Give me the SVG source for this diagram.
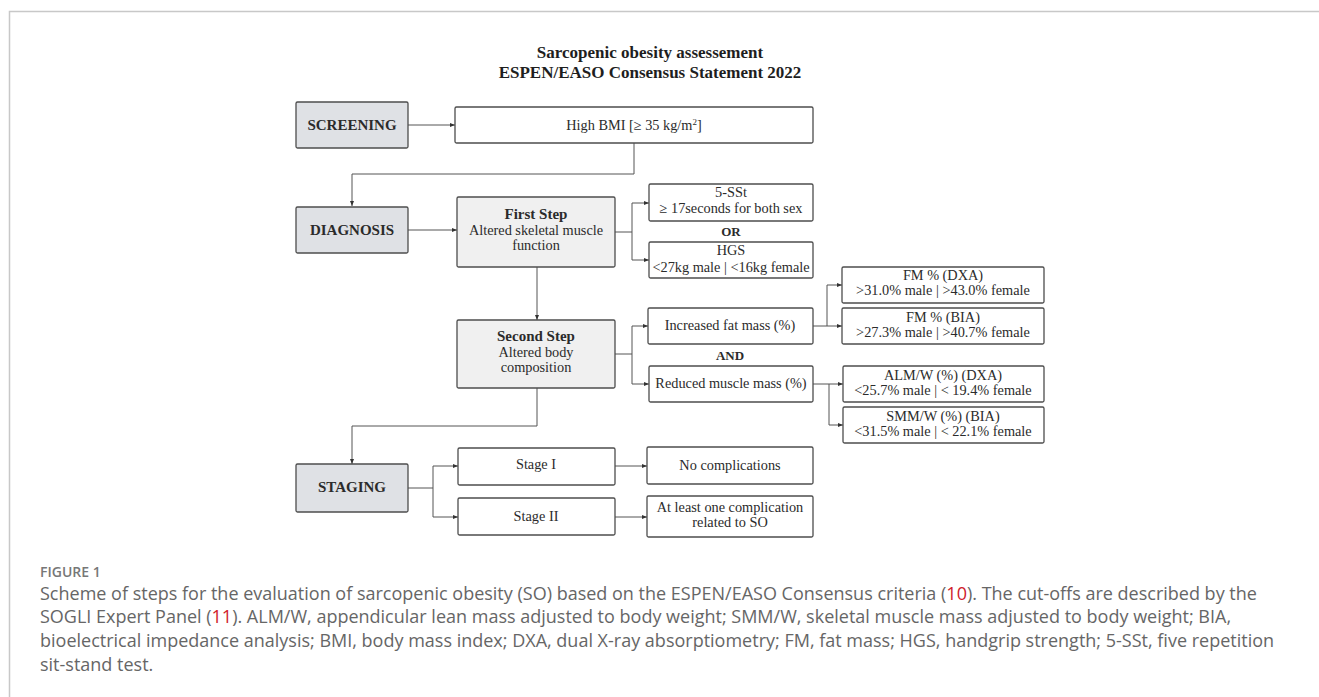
<svg xmlns="http://www.w3.org/2000/svg" width="1319" height="697" viewBox="0 0 1319 697">
<style>
.frame{stroke:#c8c8c8;stroke-width:1.5;fill:none}
.box{stroke:#4d4d4d;stroke-width:1.3;fill:#ffffff}
.head{fill:#dfe1e5}
.step{fill:#f0f0f0}
.t{font-family:"Liberation Serif",serif;font-size:14.3px;fill:#2b2b2b;text-anchor:middle}
.b{font-family:"Liberation Serif",serif;font-size:15px;font-weight:bold;fill:#2b2b2b;text-anchor:middle}
.title{font-family:"Liberation Serif",serif;font-size:17px;font-weight:bold;fill:#1e1e1e;text-anchor:middle}
.con{stroke:#555;stroke-width:1;fill:none;marker-end:url(#ah)}
.con2{stroke:#555;stroke-width:1;fill:none}
.cap{font-family:"Open Sans","Liberation Sans",sans-serif;font-size:18px;fill:#666}
.fig{font-family:"Open Sans","Liberation Sans",sans-serif;font-size:14px;font-weight:600;fill:#777}
.ref{fill:#d0202a}
</style>
<defs>
<marker id="ah" viewBox="0 0 6 6" refX="6" refY="3" markerWidth="5" markerHeight="5" orient="auto" markerUnits="userSpaceOnUse">
<path d="M0,0.6 L6,3 L0,5.4 z" fill="#333"/>
</marker>
</defs>
<rect width="1319" height="697" fill="#ffffff"/>
<path class="frame" d="M9.5,697 V11.5 H1319"/>
<g id="title">
<text class="title" x="650" y="58">Sarcopenic obesity assessement</text>
<text class="title" x="650" y="78">ESPEN/EASO Consensus Statement 2022</text>
</g>
<g id="connectors">
<path class="con" d="M408,125 H455"/>
<path class="con" d="M634,143 V174 H352 V206"/>
<path class="con" d="M408,230 H457"/>
<path class="con" d="M615,232 H632 V203 H649"/>
<path class="con" d="M632,232 V260 H649"/>
<path class="con" d="M537,267 V320"/>
<path class="con" d="M615,354 H632 V326 H648"/>
<path class="con" d="M632,354 V384 H649"/>
<path class="con" d="M813,326 H827 V285 H842"/>
<path class="con" d="M827,326 H842"/>
<path class="con" d="M813,384 H843"/>
<path class="con" d="M829,384 V425 H843"/>
<path class="con" d="M537,388 V426 H352 V464"/>
<path class="con" d="M408,488 H433 V466 H458"/>
<path class="con" d="M433,488 V517 H458"/>
<path class="con" d="M615,466 H647"/>
<path class="con" d="M615,517 H647"/>
</g>
<g id="screening">
<rect class="box head" x="296" y="102" width="112" height="46" rx="1.5"/>
<text class="b" x="352" y="130">SCREENING</text>
</g>
<g id="high-bmi">
<rect class="box" x="455" y="107" width="358" height="36" rx="1.5"/>
<text class="t" x="634" y="130">High BMI [≥ 35 kg/m<tspan font-size="9" dy="-5">2</tspan><tspan dy="5">]</tspan></text>
</g>
<g id="diagnosis">
<rect class="box head" x="296" y="207" width="112" height="46" rx="1.5"/>
<text class="b" x="352" y="235">DIAGNOSIS</text>
</g>
<g id="first-step">
<rect class="box step" x="457" y="197" width="158" height="70" rx="1.5"/>
<text class="b" x="536" y="219">First Step</text>
<text class="t" x="536" y="235">Altered skeletal muscle</text>
<text class="t" x="536" y="250">function</text>
</g>
<g id="sst">
<rect class="box" x="649" y="184" width="164" height="37" rx="1.5"/>
<text class="t" x="731" y="197">5-SSt</text>
<text class="t" x="731" y="213">≥ 17seconds for both sex</text>
</g>
<text class="b" x="731" y="236" style="font-size:13px">OR</text>
<g id="hgs">
<rect class="box" x="649" y="242" width="164" height="36" rx="1.5"/>
<text class="t" x="731" y="255">HGS</text>
<text class="t" x="731" y="272">&lt;27kg male | &lt;16kg female</text>
</g>
<g id="second-step">
<rect class="box step" x="457" y="320" width="158" height="68" rx="1.5"/>
<text class="b" x="536" y="341">Second Step</text>
<text class="t" x="536" y="357">Altered body</text>
<text class="t" x="536" y="372">composition</text>
</g>
<g id="increased-fat">
<rect class="box" x="648" y="308" width="165" height="36" rx="1.5"/>
<text class="t" x="730" y="330">Increased fat mass (%)</text>
</g>
<text class="b" x="730" y="360" style="font-size:13px">AND</text>
<g id="reduced-muscle">
<rect class="box" x="649" y="366" width="164" height="36" rx="1.5"/>
<text class="t" x="731" y="388">Reduced muscle mass (%)</text>
</g>
<g id="fm-dxa">
<rect class="box" x="842" y="267" width="202" height="36" rx="1.5"/>
<text class="t" x="943" y="280">FM % (DXA)</text>
<text class="t" x="943" y="295">&gt;31.0% male | &gt;43.0% female</text>
</g>
<g id="fm-bia">
<rect class="box" x="842" y="308" width="202" height="36" rx="1.5"/>
<text class="t" x="943" y="322">FM % (BIA)</text>
<text class="t" x="943" y="337">&gt;27.3% male | &gt;40.7% female</text>
</g>
<g id="alm-dxa">
<rect class="box" x="843" y="366" width="201" height="36" rx="1.5"/>
<text class="t" x="943" y="380">ALM/W (%) (DXA)</text>
<text class="t" x="943" y="395">&lt;25.7% male | &lt; 19.4% female</text>
</g>
<g id="smm-bia">
<rect class="box" x="843" y="407" width="201" height="36" rx="1.5"/>
<text class="t" x="943" y="421">SMM/W (%) (BIA)</text>
<text class="t" x="943" y="436">&lt;31.5% male | &lt; 22.1% female</text>
</g>
<g id="staging">
<rect class="box head" x="296" y="464" width="112" height="48" rx="1.5"/>
<text class="b" x="352" y="492">STAGING</text>
</g>
<g id="stage-1">
<rect class="box" x="458" y="448" width="157" height="37" rx="1.5"/>
<text class="t" x="536" y="469">Stage I</text>
</g>
<g id="stage-2">
<rect class="box" x="458" y="498" width="157" height="37" rx="1.5"/>
<text class="t" x="536" y="521">Stage II</text>
</g>
<g id="no-complications">
<rect class="box" x="647" y="447" width="166" height="37" rx="1.5"/>
<text class="t" x="730" y="470">No complications</text>
</g>
<g id="complication">
<rect class="box" x="647" y="496" width="166" height="41" rx="1.5"/>
<text class="t" x="730" y="512">At least one complication</text>
<text class="t" x="730" y="527">related to SO</text>
</g>
<g id="caption">
<text class="fig" x="40" y="577">FIGURE 1</text>
<text class="cap" x="40" y="600">Scheme of steps for the evaluation of sarcopenic obesity (SO) based on the ESPEN/EASO Consensus criteria (<tspan class="ref">10</tspan>). The cut-offs are described by the</text>
<text class="cap" x="40" y="623">SOGLI Expert Panel (<tspan class="ref">11</tspan>). ALM/W, appendicular lean mass adjusted to body weight; SMM/W, skeletal muscle mass adjusted to body weight; BIA,</text>
<text class="cap" x="40" y="647">bioelectrical impedance analysis; BMI, body mass index; DXA, dual X-ray absorptiometry; FM, fat mass; HGS, handgrip strength; 5-SSt, five repetition</text>
<text class="cap" x="40" y="671">sit-stand test.</text>
</g>
</svg>
